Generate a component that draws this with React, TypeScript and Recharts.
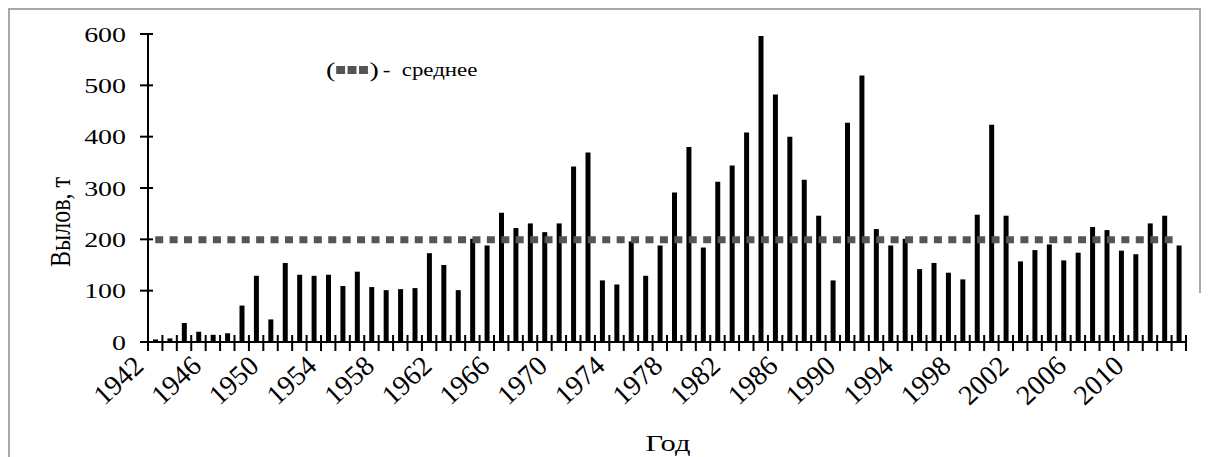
import * as React from 'react';
import { ComposedChart, Bar, Line, XAxis, YAxis } from 'recharts';

// catch per year, t
const years = [
  1942, 1943, 1944, 1945, 1946, 1947, 1948, 1949, 1950, 1951,
  1952, 1953, 1954, 1955, 1956, 1957, 1958, 1959, 1960, 1961,
  1962, 1963, 1964, 1965, 1966, 1967, 1968, 1969, 1970, 1971,
  1972, 1973, 1974, 1975, 1976, 1977, 1978, 1979, 1980, 1981,
  1982, 1983, 1984, 1985, 1986, 1987, 1988, 1989, 1990, 1991,
  1992, 1993, 1994, 1995, 1996, 1997, 1998, 1999, 2000, 2001,
  2002, 2003, 2004, 2005, 2006, 2007, 2008, 2009, 2010, 2011,
  2012, 2013,
];

const catch_t = [
  5, 7, 37, 20, 14, 17, 71, 129, 44, 154,
  131, 129, 131, 109, 137, 107, 101, 103, 105, 173,
  150, 101, 201, 188, 252, 222, 231, 214, 231, 342,
  369, 120, 112, 196, 129, 188, 291, 380, 184, 312,
  344, 408, 596, 482, 400, 316, 246, 120, 427, 519,
  220, 188, 201, 142, 154, 135, 122, 248, 423, 246,
  157, 179, 190, 159, 174, 224, 218, 178, 171, 231,
  246, 188,
];

const meanValue = 199;
const yTicks = [0, 100, 200, 300, 400, 500, 600];

const data = years.map((y, i) => ({ year: y, value: catch_t[i], mean: meanValue }));

const FONT = '"Liberation Serif", "Times New Roman", serif';
const STRETCH = 1.27; // the source figure is a bit wider than tall
const W = 1193;
const H = 449;
const PLOT_W = 1038;
const BAND = PLOT_W / years.length;

const XTick = (props: any) => {
  const { x, y, payload, index } = props;
  const i = index ?? payload.index;
  const bx = x - BAND / 2;
  const px = x - 10;
  const py = y + 26;
  return (
    <g>
      <line x1={bx} x2={bx} y1={y - 7} y2={y + 9} stroke="#000" strokeWidth={2} />
      {i === years.length - 1 && (
        <line x1={x + BAND / 2} x2={x + BAND / 2} y1={y - 7} y2={y + 9} stroke="#000" strokeWidth={2} />
      )}
      {i % 4 === 0 && (
        <text
          x={0}
          y={0}
          transform={`translate(${px}, ${py}) rotate(-43)`}
          textAnchor="end"
          fontFamily={FONT}
          fontSize={28}
          fill="#000"
        >
          {payload.value}
        </text>
      )}
    </g>
  );
};

const YTick = (props: any) => {
  const { x, y, payload } = props;
  return (
    <g>
      <line x1={x - 8} x2={x + 5} y1={y} y2={y} stroke="#000" strokeWidth={2} />
      <text
        x={0}
        y={0}
        dy="0.35em"
        transform={`translate(${x - 22}, ${y}) scale(${STRETCH}, 1)`}
        textAnchor="end"
        fontFamily={FONT}
        fontSize={22}
        fill="#000"
      >
        {payload.value}
      </text>
    </g>
  );
};

export default function App() {
  return (
    <div style={{ position: 'relative', width: W, height: H, fontFamily: FONT }}>
      {/* frame */}
      <div style={{ position: 'absolute', left: 0, top: 0, width: 2, height: H, background: '#a8a8a8' }} />
      <div style={{ position: 'absolute', left: 0, top: 0, width: 1193, height: 2, background: '#a8a8a8' }} />
      <div style={{ position: 'absolute', left: 1191, top: 0, width: 2, height: 285, background: '#a8a8a8' }} />

      <div style={{ position: 'absolute', left: 0, top: 0 }}>
        <ComposedChart
          width={W}
          height={H}
          data={data}
          margin={{ top: 26, right: 15, bottom: 55, left: 100 }}
          barCategoryGap={0}
        >
          <XAxis
            dataKey="year"
            interval={0}
            height={60}
            tickSize={0}
            tickMargin={0}
            tick={<XTick />}
            axisLine={{ stroke: '#000', strokeWidth: 2 }}
          />
          <YAxis
            width={40}
            domain={[0, 600]}
            ticks={yTicks}
            tickSize={0}
            tickMargin={0}
            tick={<YTick />}
            axisLine={{ stroke: '#000', strokeWidth: 2 }}
          />
          <Bar dataKey="value" fill="#000" barSize={5} isAnimationActive={false} />
          <Line
            type="linear"
            dataKey="mean"
            stroke="#555555"
            strokeWidth={7}
            strokeDasharray={`8 ${(BAND - 8).toFixed(2)}`}
            dot={false}
            activeDot={false}
            isAnimationActive={false}
          />
        </ComposedChart>
      </div>

      {/* legend */}
      <div
        style={{
          position: 'absolute',
          left: 318,
          top: 51,
          fontSize: 18,
          lineHeight: '22px',
          display: 'flex',
          alignItems: 'center',
          whiteSpace: 'nowrap',
          transform: `scaleX(${STRETCH})`,
          transformOrigin: 'left center',
        }}
      >
        <span style={{ fontSize: 22 }}>(</span>
        {[0, 1, 2].map((k) => (
          <span
            key={k}
            style={{ display: 'inline-block', width: 7, height: 8, background: '#555', marginLeft: k === 0 ? 1 : 2 }}
          />
        ))}
        <span style={{ fontSize: 22, marginLeft: 1 }}>)</span>
        <span style={{ marginLeft: 3 }}>-&nbsp;&nbsp;среднее</span>
      </div>

      {/* y title */}
      <div
        style={{
          position: 'absolute',
          left: 52,
          top: 214,
          fontSize: 24,
          whiteSpace: 'nowrap',
          transform: `translate(-50%, -50%) scaleX(${STRETCH}) rotate(-90deg)`,
        }}
      >
        Вылов, т
      </div>

      {/* x title */}
      <div
        style={{
          position: 'absolute',
          left: 660,
          top: 435,
          fontSize: 24,
          whiteSpace: 'nowrap',
          transform: `translate(-50%, -50%) scaleX(${STRETCH})`,
        }}
      >
        Год
      </div>
    </div>
  );
}
